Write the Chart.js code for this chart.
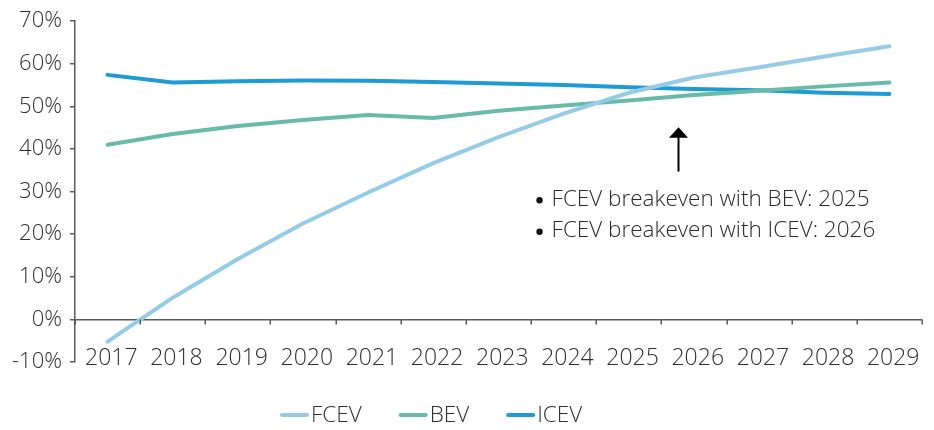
<!DOCTYPE html>
<html>
<head>
<meta charset="utf-8">
<script src="https://cdn.jsdelivr.net/npm/chart.js@4/dist/chart.umd.min.js"></script>
<style>
  html, body { margin: 0; padding: 0; background: #ffffff; }
  #wrap { width: 934px; height: 430px; position: relative; }
</style>
</head>
<body>
<div id="wrap"><canvas id="chart"></canvas></div>
<script>
// Relative cost position by powertrain, share in percent
const years = ['2017', '2018', '2019', '2020', '2021', '2022', '2023', '2024', '2025', '2026', '2027', '2028', '2029'];
const fcev = [-5.2, 5.1, 14.2, 22.5, 29.8, 36.7, 42.8, 48.3, 53.2, 56.8, 59.2, 61.7, 64.1];
const bev  = [41.0, 43.5, 45.4, 46.8, 48.0, 47.3, 49.0, 50.2, 51.4, 52.7, 53.7, 54.7, 55.6];
const icev = [57.4, 55.6, 55.9, 56.1, 56.0, 55.7, 55.4, 55.0, 54.5, 54.1, 53.8, 53.2, 52.9];

const yMin = -10;
const yMax = 70;
const yStep = 10;

const noteLines = ['FCEV breakeven with BEV: 2025', 'FCEV breakeven with ICEV: 2026'];

const FONT = '"Open Sans", "Noto Sans", sans-serif';
const WEIGHT = 300;
const SIZE = 22;
const TEXT = '#2e2e2e';
const AXIS = '#595959';

// Zero baseline tick marks between years, the breakeven arrow and note,
// and a compact legend row under the axis labels
const overlay = {
  id: 'overlay',
  afterDatasetsDraw(chart) {
    const { ctx } = chart;
    const x = chart.scales.x;
    const y = chart.scales.y;
    const y0 = y.getPixelForValue(0);

    ctx.save();
    ctx.strokeStyle = AXIS;
    ctx.lineWidth = 1.5;
    ctx.beginPath();
    for (let i = 0; i <= years.length; i++) {
      const px = Math.round(x.getPixelForValue(i - 0.5)) + 0.25;
      ctx.moveTo(px, y0);
      ctx.lineTo(px, y0 + 5);
    }
    ctx.stroke();

    // arrow
    const ax = Math.round(x.getPixelForValue(8.755)) + 0.5;
    const aTop = y.getPixelForValue(45.1);
    const aBot = y.getPixelForValue(34.7);
    ctx.strokeStyle = '#000';
    ctx.fillStyle = '#000';
    ctx.lineWidth = 2;
    ctx.beginPath();
    ctx.moveTo(ax, aBot);
    ctx.lineTo(ax, aTop + 8);
    ctx.stroke();
    ctx.beginPath();
    ctx.moveTo(ax, aTop);
    ctx.lineTo(ax - 9.5, aTop + 10.5);
    ctx.lineTo(ax + 9.5, aTop + 10.5);
    ctx.closePath();
    ctx.fill();

    // bullet note
    const bx = x.getPixelForValue(6.63);
    const tx = x.getPixelForValue(6.815);
    const rows = [28.2, 20.8];
    ctx.font = WEIGHT + ' 22.5px ' + FONT;
    ctx.textBaseline = 'middle';
    ctx.textAlign = 'left';
    noteLines.forEach((line, i) => {
      const py = y.getPixelForValue(rows[i]);
      ctx.fillStyle = '#111';
      ctx.beginPath();
      ctx.arc(bx, py + 1, 3.2, 0, Math.PI * 2);
      ctx.fill();
      ctx.fillStyle = '#2a2a2a';
      ctx.fillText(line, tx, py);
    });

    // legend
    ctx.font = WEIGHT + ' 22.5px ' + FONT;
    const sample = 29, gapText = 2, gapItem = 37;
    const items = chart.data.datasets.map(ds => ({
      label: ds.label,
      color: ds.borderColor,
      w: sample + gapText + ctx.measureText(ds.label).width
    }));
    const total = items.reduce((s, it) => s + it.w, 0) + gapItem * (items.length - 1);
    let cx = Math.round(chart.width * 0.4615 - total / 2);
    const ly = chart.height - 15;
    items.forEach(it => {
      ctx.strokeStyle = it.color;
      ctx.lineWidth = 4;
      ctx.lineCap = 'round';
      ctx.beginPath();
      ctx.moveTo(cx + 2, ly);
      ctx.lineTo(cx + sample - 2, ly);
      ctx.stroke();
      ctx.fillStyle = TEXT;
      ctx.fillText(it.label, cx + sample + gapText, ly + 1);
      cx += it.w + gapItem;
    });
    ctx.restore();
  }
};

const series = (label, data, color) => ({
  label,
  data,
  borderColor: color,
  backgroundColor: color,
  borderWidth: 4,
  borderCapStyle: 'round',
  borderJoinStyle: 'round',
  pointRadius: 0,
  pointHoverRadius: 0,
  tension: 0,
  fill: false
});

new Chart(document.getElementById('chart'), {
  type: 'line',
  data: {
    labels: years,
    datasets: [
      series('FCEV', fcev, '#94CCE8'),
      series('BEV', bev, '#67BBA8'),
      series('ICEV', icev, '#1E9AD4')
    ]
  },
  options: {
    responsive: true,
    maintainAspectRatio: false,
    animation: false,
    devicePixelRatio: 1,
    layout: { padding: { left: 4, right: 12, top: 10, bottom: 68 } },
    plugins: {
      tooltip: { enabled: false },
      legend: { display: false }
    },
    scales: {
      x: {
        type: 'category',
        offset: true,
        grid: { display: false, drawTicks: false },
        border: { display: false },
        ticks: {
          color: TEXT,
          font: { family: FONT, size: 23, weight: WEIGHT, lineHeight: '6.4px' },
          mirror: true,
          padding: 0,
          labelOffset: 3.8,
          maxRotation: 0,
          autoSkip: false
        }
      },
      y: {
        min: yMin,
        max: yMax,
        ticks: {
          stepSize: yStep,
          color: TEXT,
          font: { family: FONT, size: SIZE, weight: WEIGHT },
          padding: 8,
          callback: v => v + '%'
        },
        border: { display: true, color: AXIS, width: 1.5 },
        grid: {
          drawOnChartArea: true,
          drawTicks: true,
          tickLength: 5,
          tickColor: AXIS,
          lineWidth: 1.5,
          color: ctx => (ctx.tick && ctx.tick.value === 0 ? AXIS : 'rgba(0,0,0,0)')
        }
      }
    }
  },
  plugins: [overlay]
});
</script>
</body>
</html>
